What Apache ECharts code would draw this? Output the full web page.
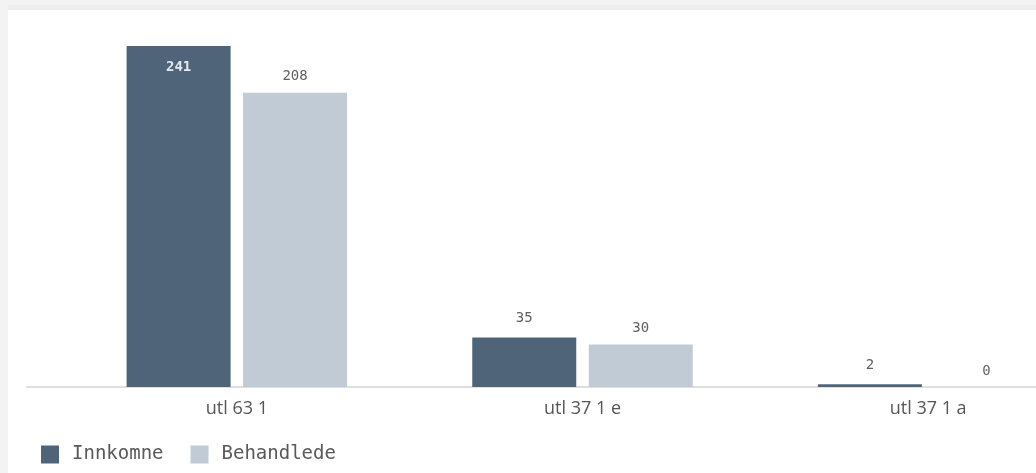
<!DOCTYPE html>
<html>
<head>
<meta charset="utf-8">
<script src="https://cdn.jsdelivr.net/npm/echarts@6/dist/echarts.min.js"></script>
<style>
  html, body { margin: 0; padding: 0; width: 1036px; height: 473px; overflow: hidden; background: #f3f3f3; }
  #card { position: absolute; left: 8px; top: 5px; right: 0; bottom: 0; background: #fff; border-top: 5px solid #ededed; }
  #chart { position: absolute; left: 0; top: 0; width: 1101px; height: 473px; }
</style>
</head>
<body>
<div id="card"></div>
<div id="chart"></div>
<script>
const categories = ['utl 63 1', 'utl 37 1 e', 'utl 37 1 a'];
const seriesNames = ['Innkomne', 'Behandlede'];
const innkomne = [241, 35, 2];
const behandlede = [208, 30, 0];

const colors = ['#4f6479', '#c1cbd6'];
const yMax = Math.max(...innkomne, ...behandlede);

function buildData(values) {
  return values.map(v => v === yMax
    ? { value: v, label: { position: 'insideTop', distance: 14, color: '#e4e9ee', fontWeight: 'bold' } }
    : { value: v });
}

const chart = echarts.init(document.getElementById('chart'));
chart.setOption({
  animation: false,
  backgroundColor: 'transparent',
  color: colors,
  grid: [
    { left: 64, top: 46, right: 0, height: 341 },
    { left: 27, top: 46, right: 65, height: 341 }
  ],
  legend: {
    left: 41,
    top: 445,
    padding: 0,
    icon: 'rect',
    itemWidth: 18,
    itemHeight: 18,
    itemGap: 27,
    textStyle: { fontFamily: 'DejaVu Sans Mono', fontSize: 19, color: '#595959', padding: [0, 0, 0, 8] },
    data: seriesNames
  },
  xAxis: [
    {
      type: 'category',
      data: categories,
      gridIndex: 0,
      axisLine: { show: false },
      axisTick: { show: false },
      axisLabel: { fontFamily: 'Open Sans', fontSize: 18, color: '#555555', margin: 13 }
    },
    {
      type: 'category',
      data: [],
      gridIndex: 1,
      position: 'bottom',
      axisLine: { show: true, onZero: false, lineStyle: { color: '#dfdfdf', width: 2 } },
      axisTick: { show: false },
      axisLabel: { show: false }
    }
  ],
  yAxis: [
    { type: 'value', gridIndex: 0, min: 0, max: yMax, show: false },
    { type: 'value', gridIndex: 1, show: false }
  ],
  series: [
    {
      name: seriesNames[0],
      type: 'bar',
      xAxisIndex: 0, yAxisIndex: 0,
      barWidth: 104,
      barGap: '12%',
      data: buildData(innkomne),
      label: { show: true, position: 'top', distance: 12, fontFamily: 'DejaVu Sans Mono', fontSize: 14, color: '#5f5f5f' }
    },
    {
      name: seriesNames[1],
      type: 'bar',
      xAxisIndex: 0, yAxisIndex: 0,
      barWidth: 104,
      barGap: '12%',
      data: buildData(behandlede),
      label: { show: true, position: 'top', distance: 9, fontFamily: 'DejaVu Sans Mono', fontSize: 14, color: '#5f5f5f' }
    }
  ]
});
</script>
</body>
</html>
